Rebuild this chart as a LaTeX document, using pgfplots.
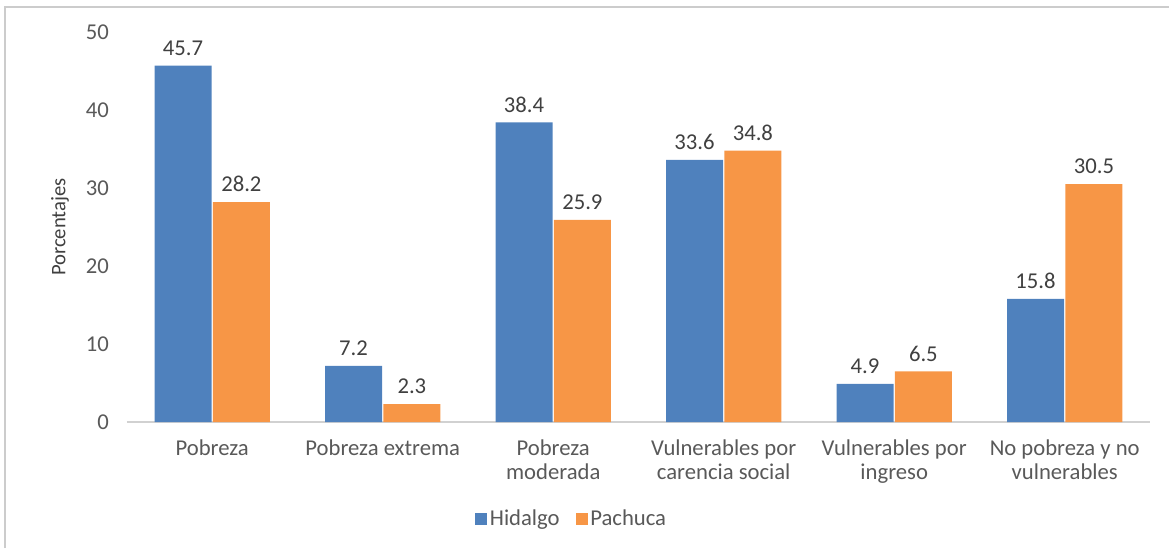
\documentclass[border=0pt]{standalone}
\usepackage{pgfplots}
\pgfplotsset{compat=1.18}
\usepackage{fontspec}
\setmainfont{Carlito}
\definecolor{hid}{HTML}{4F81BD}
\definecolor{pac}{HTML}{F79646}
\definecolor{txt}{HTML}{595959}
\definecolor{lbl}{HTML}{404040}

\begin{document}
\begin{tikzpicture}
\begin{axis}[
  width=767.25pt, height=292.5pt, scale only axis,
  ybar=1pt, bar width=42.75pt,
  xmin=-0.5, xmax=5.5, ymin=0, ymax=50,
  enlargelimits=false,
  axis x line*=bottom, axis y line*=left,
  x axis line style={draw=black!18, line width=1.2pt},
  y axis line style={draw=none},
  major tick length=0pt,
  xtick={0,...,5},
  xticklabels={Pobreza, Pobreza extrema, {Pobreza\\moderada}, {Vulnerables por\\carencia social}, {Vulnerables por\\ingreso}, {No pobreza y no\\vulnerables}},
  xticklabel style={align=center, font=\fontsize{17}{17.5}\selectfont, text=txt, yshift=-10pt},
  ytick={0,10,...,50},
  yticklabel style={font=\fontsize{17}{18}\selectfont, text=txt, xshift=-10pt},
  /pgf/number format/assume math mode=true,
  ylabel={Porcentajes},
  ylabel style={at={(rel axis cs:-0.0655,0.5)}, anchor=center, font=\fontsize{15.5}{18}\selectfont, text=lbl},
  nodes near coords,
  nodes near coords style={font=\fontsize{17}{18}\selectfont, text=lbl, /pgf/number format/fixed, /pgf/number format/fixed zerofill, /pgf/number format/precision=1, yshift=4pt},
  legend columns=2,
  legend style={at={(rel axis cs:0.435,-0.249)}, anchor=center, draw=none, font=\fontsize{17}{18}\selectfont, text=txt, /tikz/every even column/.append style={column sep=10pt}},
  legend image code/.code={\fill[#1] (0pt,-4.5pt) rectangle (9pt,4.5pt);},
]
\addplot[fill=hid, draw=none] coordinates {(0,45.7) (1,7.2) (2,38.4) (3,33.6) (4,4.9) (5,15.8)};
\addplot[fill=pac, draw=none] coordinates {(0,28.2) (1,2.3) (2,25.9) (3,34.8) (4,6.5) (5,30.5)};
\legend{Hidalgo, Pachuca}
\coordinate (bl) at (rel axis cs:-0.1241,-0.3231);
\coordinate (tr) at (rel axis cs:1.0186,1.0821);
\coordinate (fl) at (rel axis cs:-0.1192,-0.3231);
\coordinate (ft) at (rel axis cs:1.0186,1.064);
\end{axis}
\draw[black!20, line width=1.2pt] (fl) |- (ft);
\pgfresetboundingbox
\path[use as bounding box] (bl) rectangle (tr);
\end{tikzpicture}
\end{document}
